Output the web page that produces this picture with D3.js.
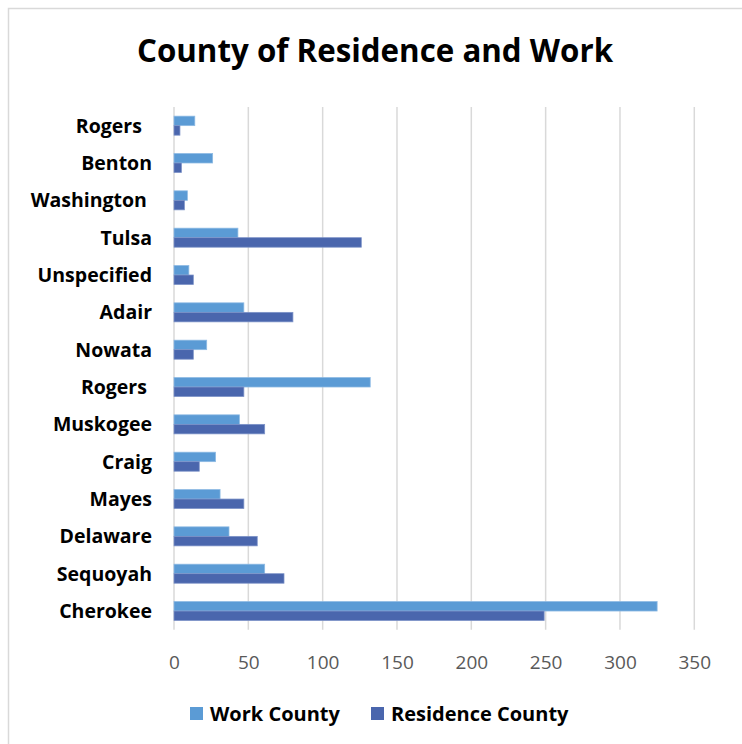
<!DOCTYPE html>
<html>
<head>
<meta charset="utf-8">
<script src="https://cdn.jsdelivr.net/npm/d3@7"></script>
<style>
  html, body { margin: 0; padding: 0; background: #fff; }
  svg text { font-family: "Open Sans", Lato, sans-serif; }
</style>
</head>
<body>
<svg id="chart" width="742" height="744"></svg>
<script>
// County labels, top to bottom (trailing spaces kept as entered)
const counties = ["Rogers  ", "Benton", "Washington ", "Tulsa", "Unspecified", "Adair",
  "Nowata", "Rogers ", "Muskogee", "Craig", "Mayes", "Delaware", "Sequoyah", "Cherokee"];
const workCounty      = [14, 26, 9, 43, 10, 47, 22, 132, 44, 28, 31, 37, 61, 325];
const residenceCounty = [4, 5, 7, 126, 13, 80, 13, 47, 61, 17, 47, 56, 74, 249];
const seriesNames = ["Work County", "Residence County"];
const xTicks = [0, 50, 100, 150, 200, 250, 300, 350];

const colors = ["#5b9bd5", "#4a66ad"];
const strokes = ["#8fbbe4", "#7d93c8"];

const svg = d3.select("#chart");
const W = 742, H = 744;
const plot = { left: 174, right: 694.3, top: 107, bottom: 629.7 };

// chart frame
svg.append("rect")
  .attr("x", 8.5).attr("y", 8.5).attr("width", W).attr("height", H)
  .attr("fill", "#fff").attr("stroke", "#d9d9d9").attr("stroke-width", 1.5);

svg.append("text")
  .attr("x", 375).attr("y", 62)
  .attr("text-anchor", "middle")
  .attr("font-size", 31.3).attr("font-weight", 700).attr("fill", "#000")
  .text("County of Residence and Work");

const x = d3.scaleLinear().domain([0, 350]).range([plot.left, plot.right]);
const y = d3.scaleBand().domain(d3.range(counties.length))
  .range([plot.top, plot.bottom]).paddingInner(0.49).paddingOuter(0.245);
const ySub = d3.scaleBand().domain([0, 1]).range([0, y.bandwidth()]);

// vertical gridlines
svg.append("g").selectAll("line").data(xTicks).join("line")
  .attr("x1", d => x(d)).attr("x2", d => x(d))
  .attr("y1", plot.top).attr("y2", plot.bottom)
  .attr("stroke", "#d9d9d9").attr("stroke-width", 1.5);

// x axis labels
const xAxis = d3.axisBottom(x).tickValues(xTicks).tickSize(0).tickPadding(0);
const gx = svg.append("g").attr("transform", `translate(0,${plot.bottom + 39})`).call(xAxis);
gx.select(".domain").remove();
gx.selectAll("text")
  .attr("dy", 0).attr("y", 0)
  .attr("font-family", "'Open Sans', sans-serif")
  .attr("font-size", 19).attr("fill", "#595959");

// y axis labels
const yAxis = d3.axisLeft(y).tickFormat(i => counties[i]).tickSize(0).tickPadding(0);
const gy = svg.append("g").attr("transform", `translate(152,0)`).call(yAxis);
gy.select(".domain").remove();
gy.selectAll("text")
  .attr("x", 0).attr("dy", "0.36em")
  .style("white-space", "pre")
  .attr("font-family", "'Open Sans', sans-serif")
  .attr("font-size", 19.5).attr("font-weight", 700).attr("fill", "#000");

// bars
const seriesValues = [workCounty, residenceCounty];
seriesValues.forEach((vals, s) => {
  svg.append("g").selectAll("rect").data(vals).join("rect")
    .attr("x", x(0))
    .attr("y", (d, i) => y(i) + ySub(s))
    .attr("width", d => x(d) - x(0))
    .attr("height", ySub.bandwidth())
    .attr("fill", colors[s])
    .attr("stroke", strokes[s]).attr("stroke-width", 0.75);
});

// legend
const legendItems = [{ x: 190 }, { x: 371 }];
const lg = svg.append("g");
seriesNames.forEach((name, s) => {
  const g = lg.append("g").attr("transform", `translate(${legendItems[s].x},707)`);
  g.append("rect").attr("width", 13).attr("height", 13).attr("fill", colors[s]);
  g.append("text").attr("x", 20).attr("y", 14)
    .attr("font-size", 20).attr("font-weight", 700).attr("fill", "#000")
    .text(name);
});
</script>
</body>
</html>
